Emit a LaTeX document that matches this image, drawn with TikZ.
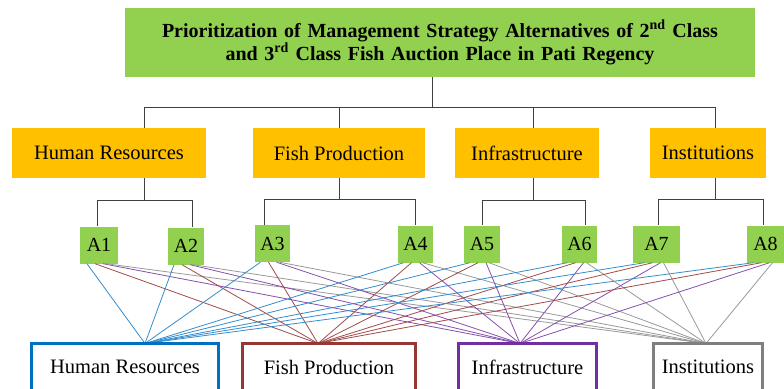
\documentclass[tikz,border=0pt]{standalone}
\usepackage{fontspec}
\setmainfont{Liberation Serif}

\definecolor{goalgreen}{HTML}{92D050}
\definecolor{critorange}{HTML}{FFC000}
\definecolor{hrblue}{HTML}{0070C0}
\definecolor{fpred}{HTML}{953735}
\definecolor{infpurple}{HTML}{7030A0}
\definecolor{insgray}{HTML}{7F7F7F}

\begin{document}
\begin{tikzpicture}[
  x=1pt, y=-1pt,
  goal/.style={fill=goalgreen, minimum height=69pt, text width=600pt, align=center,
    font=\fontsize{20}{23}\selectfont\bfseries},
  crit/.style={fill=critorange, minimum height=50pt, font=\fontsize{20.5}{24}\selectfont},
  alt/.style={fill=goalgreen, minimum height=37pt, inner sep=0pt, font=\fontsize{20}{24}\selectfont},
  result/.style={draw=#1, line width=3pt, fill=white, minimum height=47pt,
    font=\fontsize{20.5}{24}\selectfont},
  fork/.style={draw=black!75, line width=1pt},
  link/.style={draw=#1, line width=0.8pt}
]
\useasboundingbox (0,0) rectangle (784,388);
\clip (0,0) rectangle (784,388);

% goal
\node[goal, minimum width=630pt] (goal) at (440,42.5)
  {Prioritization of Management Strategy Alternatives of 2\textsuperscript{nd} Class\\
   and 3\textsuperscript{rd} Class Fish Auction Place in Pati Regency};

% criteria
\node[crit, minimum width=194pt] (hr) at (109,153) {Human Resources};
\node[crit, minimum width=172pt] (fp) at (339,153) {Fish Production};
\node[crit, minimum width=144pt] (inf) at (527,153) {Infrastructure};
\node[crit, minimum width=116pt] (ins) at (708,153) {Institutions};

% alternatives
\node[alt, minimum width=38pt] (a1) at (99,245) {A1};
\node[alt, minimum width=36pt] (a2) at (186,246) {A2};
\node[alt, minimum width=35pt] (a3) at (272.5,243.5) {A3};
\node[alt, minimum width=35pt] (a4) at (415.5,244) {A4};
\node[alt, minimum width=36pt] (a5) at (482,244) {A5};
\node[alt, minimum width=35pt] (a6) at (579.5,244) {A6};
\node[alt, minimum width=47pt] (a7) at (656.5,244) {A7};
\node[alt, minimum width=37pt] (a8) at (765.5,244) {A8};

% goal -> criteria
\draw[fork] ([xshift=-8pt]goal.south) -- ++(0,30) -| ([xshift=35pt]hr.north);
\draw[fork] ([xshift=-8pt]goal.south) -- ++(0,30) -| (fp.north);
\draw[fork] ([xshift=-8pt]goal.south) -- ++(0,30) -| ([xshift=6pt]inf.north);
\draw[fork] ([xshift=-8pt]goal.south) -- ++(0,30) -| ([xshift=7pt]ins.north);

% criteria -> alternatives
\draw[fork] ([xshift=35pt]hr.south) -- ++(0,22) -| ([xshift=-2pt]a1.north);
\draw[fork] ([xshift=35pt]hr.south) -- ++(0,22) -| ([xshift=6pt]a2.north);
\draw[fork] (fp.south) -- ++(0,21) -| ([xshift=-8pt]a3.north);
\draw[fork] (fp.south) -- ++(0,21) -| (a4.north);
\draw[fork] ([xshift=6pt]inf.south) -- ++(0,22) -| (a5.north);
\draw[fork] ([xshift=6pt]inf.south) -- ++(0,22) -| ([xshift=6pt]a6.north);
\draw[fork] ([xshift=7pt]ins.south) -- ++(0,21) -| ([xshift=2pt]a7.north);
\draw[fork] ([xshift=7pt]ins.south) -- ++(0,21) -| ([xshift=-2pt]a8.north);

% every alternative against every criterion
\foreach \a in {a1,a2,a3,a4,a5,a6,a7,a8} {
  \draw[link=hrblue!80] ([xshift=-12pt]\a.south) -- (145,343.5);
  \draw[link=fpred!90] ([xshift=-4pt]\a.south) -- (318,343.5);
  \draw[link=infpurple!85] ([xshift=4pt]\a.south) -- (520,343.5);
  \draw[link=insgray!80] ([xshift=7pt]\a.south) -- (706,343.5);
}

% criteria again, as outcome boxes
\node[result=hrblue, minimum width=187pt] (hrb) at (125,367) {Human Resources};
\node[result=fpred, minimum width=173pt] (fpb) at (329,367) {Fish Production};
\node[result=infpurple, minimum width=138pt] (infb) at (527.5,367) {Infrastructure};
\node[result=insgray, minimum width=109pt] (insb) at (708,367) {Institutions};

\end{tikzpicture}
\end{document}
